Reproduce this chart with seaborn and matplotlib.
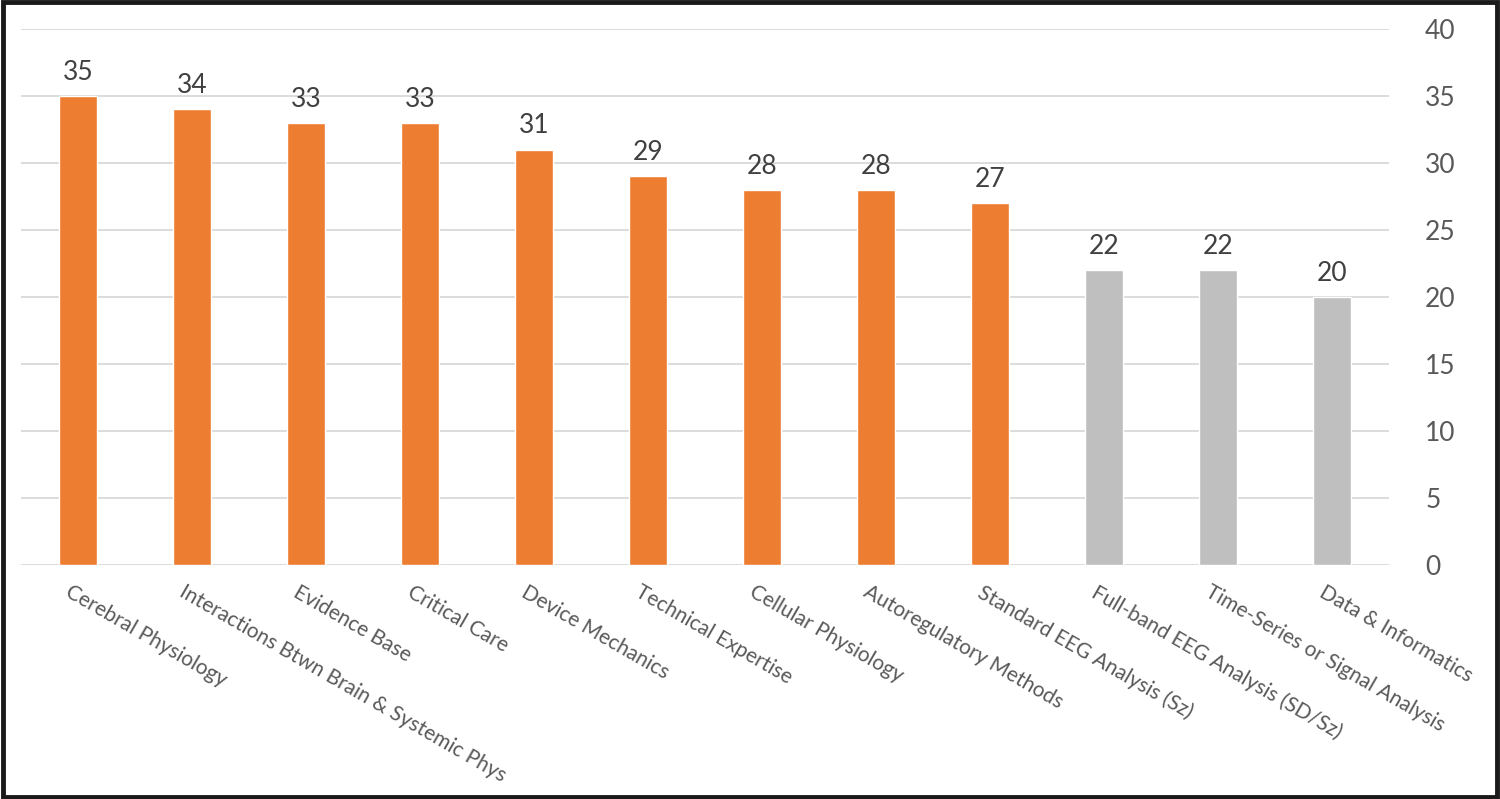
import matplotlib
matplotlib.use("Agg")
import matplotlib.pyplot as plt
import matplotlib.transforms as mtrans
import seaborn as sns
import pandas as pd
from matplotlib.patches import Rectangle

categories = ["Cerebral Physiology", "Interactions Btwn Brain & Systemic Phys",
              "Evidence Base", "Critical Care", "Device Mechanics",
              "Technical Expertise", "Cellular Physiology", "Autoregulatory Methods",
              "Standard EEG Analysis (Sz)", "Full-band EEG Analysis (SD/Sz)",
              "Time-Series or Signal Analysis", "Data & Informatics"]
values = [35, 34, 33, 33, 31, 29, 28, 28, 27, 22, 22, 20]
groups = ["A"] * 9 + ["B"] * 3
y_ticks = [0, 5, 10, 15, 20, 25, 30, 35, 40]

sns.set_theme(style="white")
plt.rcParams['font.family'] = ['Lato', 'DejaVu Sans']

df = pd.DataFrame({"cat": categories, "val": values, "grp": groups})
palette = {"A": "#ED7D31", "B": "#BFBFBF"}

fig = plt.figure(figsize=(15, 7.99), dpi=100)
ax = fig.add_axes([0.014, 0.2929, 0.912, 0.6708])
sns.barplot(data=df, x="cat", y="val", hue="grp", palette=palette, dodge=False,
            width=0.34, legend=False, ax=ax, saturation=1)

ax.set_ylim(0, 40)
ax.set_xlim(-0.5, len(categories) - 0.5)
ax.set_yticks(y_ticks)
ax.yaxis.tick_right()
ax.grid(axis="y", color="#D9D9D9", linewidth=1.3)
ax.set_axisbelow(True)
for s in ax.spines.values():
    s.set_visible(False)
ax.tick_params(axis="y", length=0, labelsize=19, labelcolor="#595959", pad=26)
ax.tick_params(axis="x", length=0)
ax.set_xlabel("")
ax.set_ylabel("")
ax.set_xticks(range(len(categories)))
ax.set_xticklabels(categories, rotation=-30, ha="left", va="top",
                   rotation_mode="anchor", fontsize=15, color="#595959")
offset = mtrans.ScaledTranslation(-6 / 100, -12 / 100, fig.dpi_scale_trans)
for lbl in ax.get_xticklabels():
    lbl.set_transform(lbl.get_transform() + offset)

for c in ax.containers:
    ax.bar_label(c, labels=[f"{v:g}" if v == v and v > 0 else "" for v in c.datavalues],
                 padding=8, fontsize=19, color="#404040")

fig.patches.append(Rectangle((0.002, 0.003), 0.996, 0.994, transform=fig.transFigure,
                             fill=False, edgecolor="#1a1a1a", linewidth=3.5))
fig.savefig("out.png", dpi=100)
